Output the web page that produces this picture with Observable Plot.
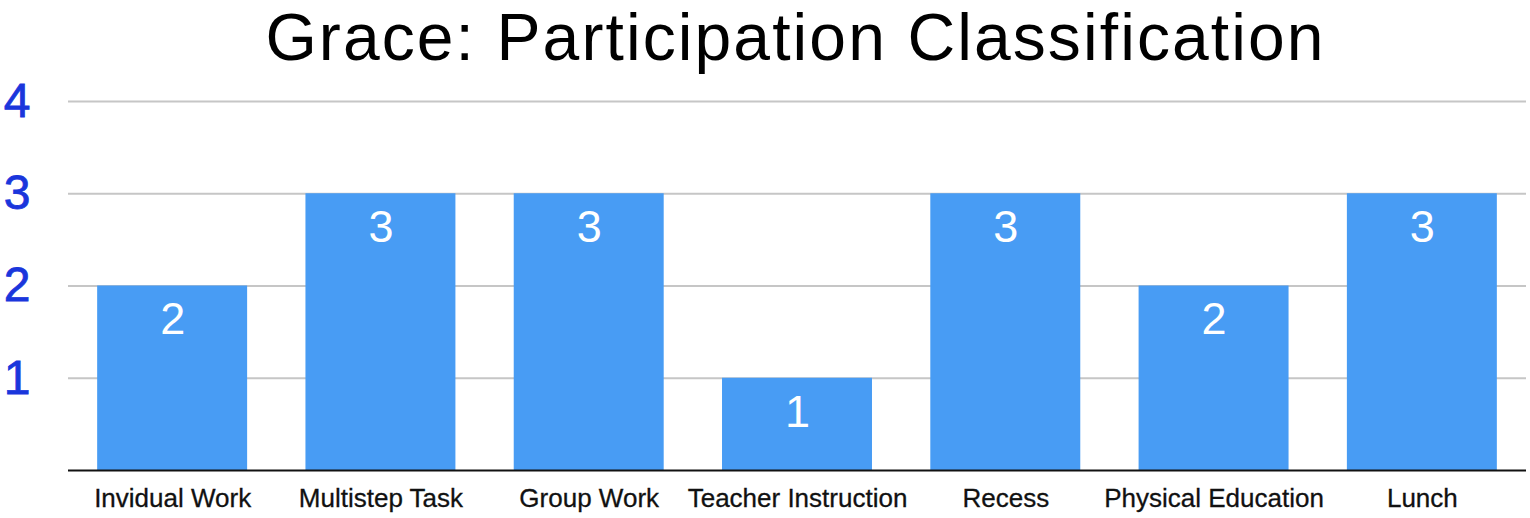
<!DOCTYPE html>
<html>
<head>
<meta charset="utf-8">
<script src="https://cdn.jsdelivr.net/npm/d3@7"></script>
<script src="https://cdn.jsdelivr.net/npm/@observablehq/plot@0.6"></script>
<style>
  html, body { margin: 0; padding: 0; background: #fff; }
  body { width: 1530px; height: 518px; overflow: hidden; font-family: "Liberation Sans", Arial, Helvetica, sans-serif; }
  #title { height: 80px; line-height: 80px; font-size: 66px; letter-spacing: 2.1px; color: #000; text-align: center; padding-left: 64px; padding-right: 3px; white-space: nowrap; box-sizing: border-box; padding-bottom: 6px; }
  #title span { display: inline-block; line-height: 74px; vertical-align: top; }
  svg { overflow: visible; }
  g[aria-label="y-axis tick label"] text { stroke: #1a36dc; stroke-width: 0.8px; }
  g[aria-label="x-axis tick label"] text { stroke: #111; stroke-width: 0.3px; }
</style>
</head>
<body>
<div id="title"><span>Grace: Participation Classification</span></div>
<div id="chart"></div>
<script>
const categories = ["Invidual Work", "Multistep Task", "Group Work", "Teacher Instruction", "Recess", "Physical Education", "Lunch"];
const values = [2, 3, 3, 1, 3, 2, 3];
const yTicks = [1, 2, 3, 4];

const data = categories.map((c, i) => ({category: c, value: values[i]}));

const chart = Plot.plot({
  width: 1530,
  height: 438,
  marginTop: 21,
  marginBottom: 48,
  marginLeft: 68,
  marginRight: 4,
  style: {fontFamily: "'Liberation Sans', Arial, Helvetica, sans-serif", background: "#fff", overflow: "visible"},
  x: {domain: categories, paddingInner: 0.28, paddingOuter: 0.14, round: false, label: null},
  y: {domain: [0, 4], label: null},
  marks: [
    Plot.ruleY(yTicks, {stroke: "#c6c6c6", strokeWidth: 2}),
    Plot.barY(data, {x: "category", y: "value", fill: "#489cf4"}),
    Plot.ruleY([0], {stroke: "#111", strokeWidth: 2}),
    Plot.text(data, {x: "category", y: "value", text: d => String(d.value), dy: 34, fill: "#fff", fontSize: 45}),
    Plot.axisY({ticks: yTicks, tickSize: 0, tickPadding: 38, fontSize: 48, fill: "#1a36dc", tickFormat: d => String(d), label: null}),
    Plot.axisX({tickSize: 0, tickPadding: 18, fontSize: 26, fill: "#111", label: null})
  ]
});
document.getElementById("chart").appendChild(chart);
</script>
</body>
</html>
